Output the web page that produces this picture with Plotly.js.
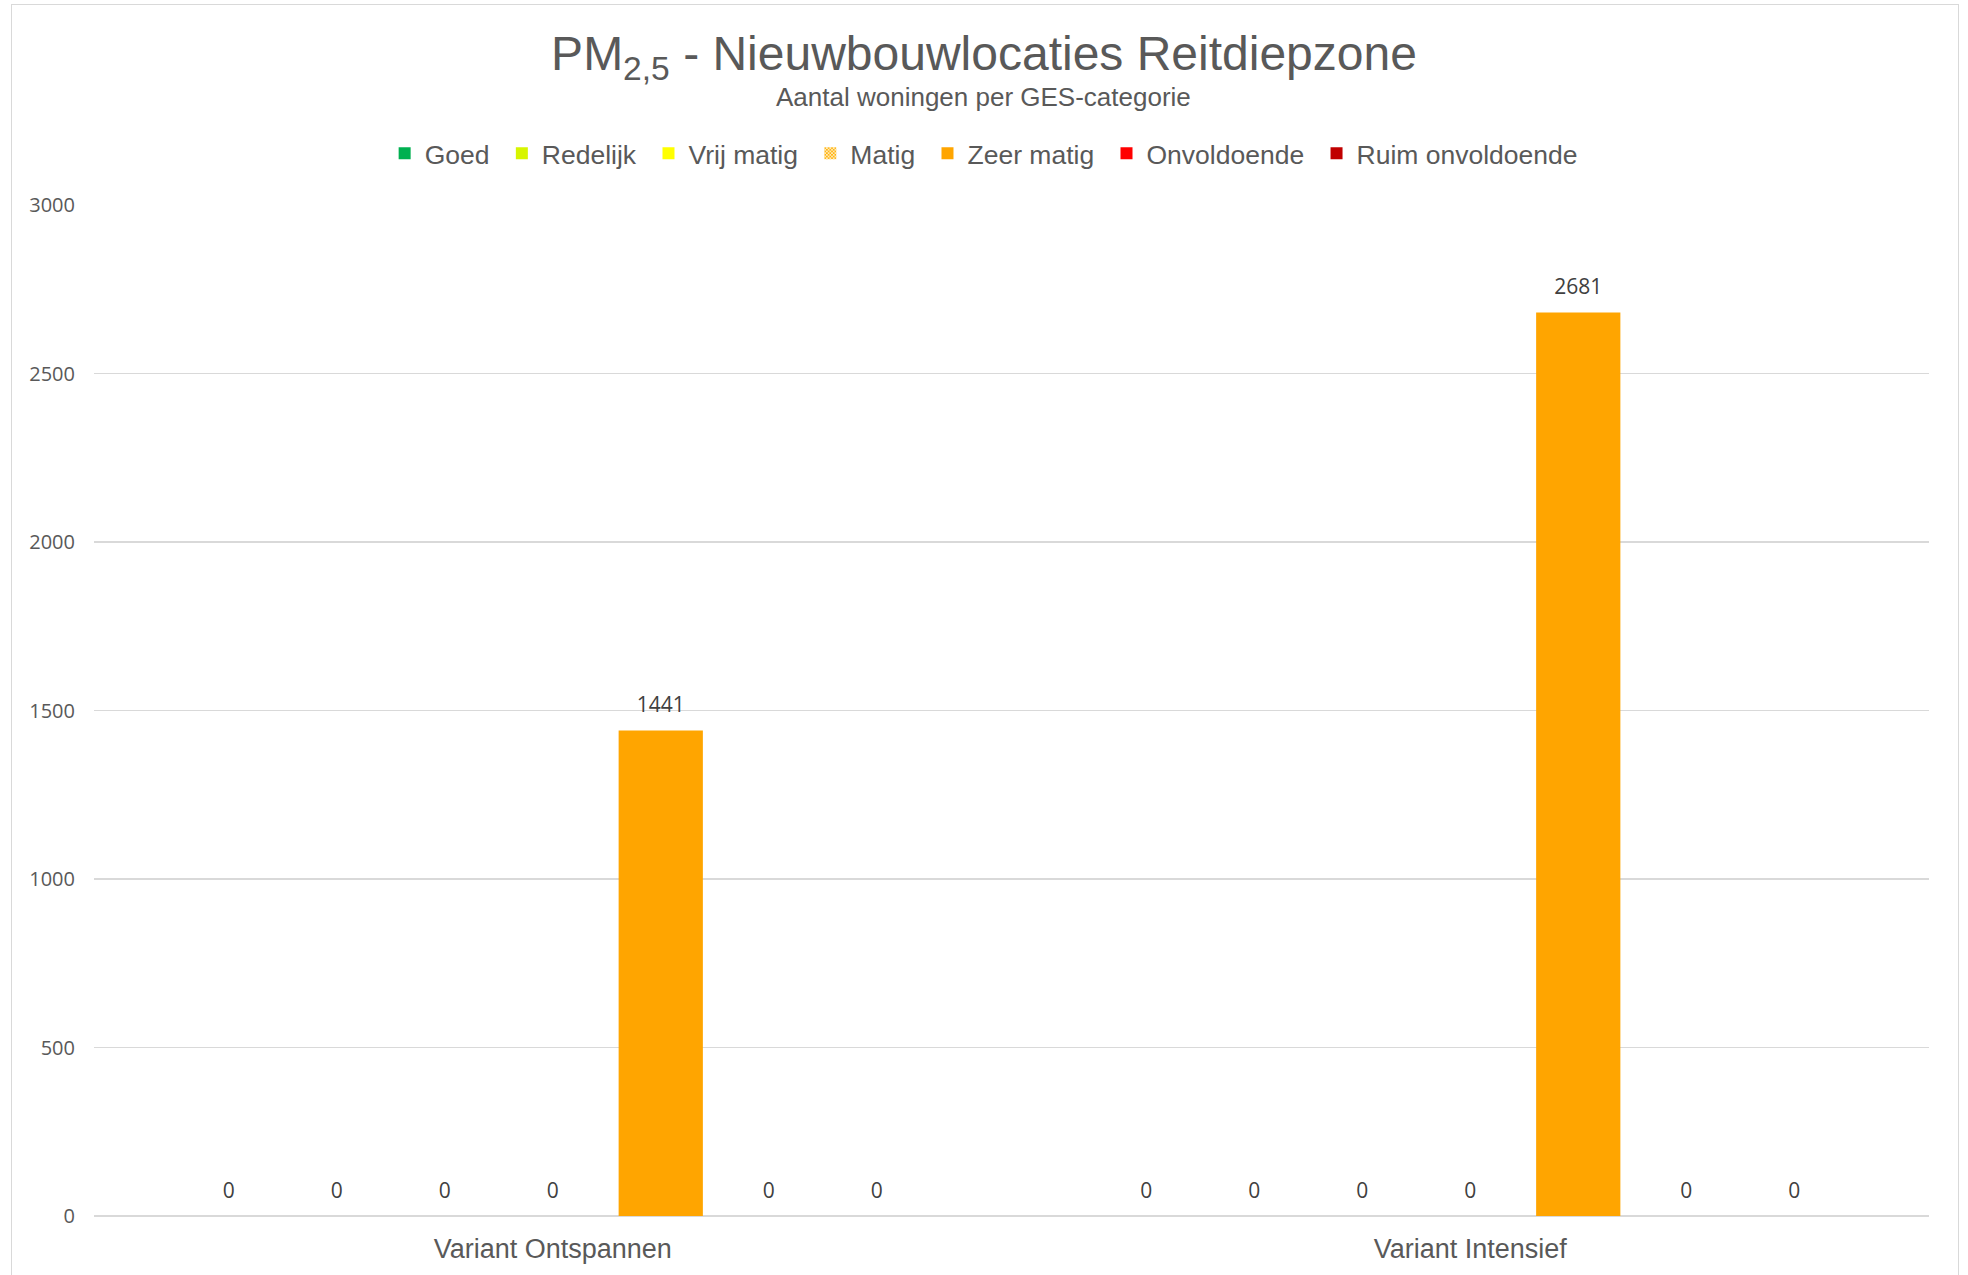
<!DOCTYPE html>
<html>
<head>
<meta charset="utf-8">
<script src="https://cdn.plot.ly/plotly-3.0.1.min.js"></script>
<style>
  body { margin: 0; background: #fff; }
  #chart { width: 1968px; height: 1275px; }
  #frame { position: absolute; left: 11px; top: 4px; width: 1946px; height: 1300px;
           border: 1.5px solid #d9d9d9; pointer-events: none; }
</style>
</head>
<body>
<div id="chart"></div>
<div id="frame"></div>
<script>
// categories and series
var categories = ['Variant Ontspannen', 'Variant Intensief'];
var seriesNames = ['Goed', 'Redelijk', 'Vrij matig', 'Matig', 'Zeer matig', 'Onvoldoende', 'Ruim onvoldoende'];
var goed = [0, 0];
var redelijk = [0, 0];
var vrijMatig = [0, 0];
var matig = [0, 0];
var zeerMatig = [1441, 2681];
var onvoldoende = [0, 0];
var ruimOnvoldoende = [0, 0];
var seriesValues = [goed, redelijk, vrijMatig, matig, zeerMatig, onvoldoende, ruimOnvoldoende];
var seriesColors = ['#00b050', '#d7f500', '#ffff00', '#ffc000', '#ffa500', '#ff0000', '#c00000'];

var GAP = 0.176;

var bars = seriesNames.map(function(name, i) {
  var marker = { color: seriesColors[i] };
  if (name === 'Matig') {
    marker = { color: '#ffffff', pattern: { shape: 'x', fgcolor: '#ffb000', bgcolor: '#ffffff', size: 3, solidity: 0.6 } };
  }
  return {
    type: 'bar',
    name: name + '\u00a0',
    x: categories,
    y: seriesValues[i],
    marker: marker,
    offsetgroup: String(i),
    hoverinfo: 'name+y'
  };
});

// value labels, grouped like the bars (invisible marker keeps them off the bar top)
var labels = seriesNames.map(function(name, i) {
  return {
    type: 'scatter',
    mode: 'markers+text',
    x: categories,
    y: seriesValues[i],
    text: seriesValues[i].map(String),
    textposition: 'top center',
    marker: { size: 19, color: 'rgba(0,0,0,0)' },
    offsetgroup: String(i),
    showlegend: false,
    cliponaxis: false,
    hoverinfo: 'skip',
    textfont: { family: '"Open Sans", "Noto Sans", sans-serif', size: 21, color: '#404040' }
  };
});

var layout = {
  width: 1968,
  height: 1275,
  paper_bgcolor: '#ffffff',
  plot_bgcolor: '#ffffff',
  margin: { l: 94, r: 39, t: 205, b: 59 },
  font: { family: '"Liberation Sans", Arial, sans-serif', color: '#595959' },
  title: {
    text: 'PM<sub>2,5</sub> - Nieuwbouwlocaties Reitdiepzone',
    font: { size: 48, color: '#595959' },
    x: 0.5, xanchor: 'center',
    yref: 'container', y: 0.958, yanchor: 'middle'
  },
  annotations: [{
    text: 'Aantal woningen per GES-categorie',
    xref: 'paper', yref: 'paper', x: 0.485, y: 1.107,
    xanchor: 'center', yanchor: 'middle', showarrow: false,
    font: { size: 26, color: '#595959' }
  }],
  barmode: 'group',
  bargap: GAP,
  bargroupgap: 0.22,
  scattermode: 'group',
  scattergap: GAP,
  showlegend: true,
  legend: {
    orientation: 'h',
    x: 0.487, xanchor: 'center',
    y: 1.051, yanchor: 'middle',
    font: { size: 26.5, color: '#595959' },
    itemwidth: 30,
    traceorder: 'normal'
  },
  xaxis: {
    type: 'category',
    showgrid: false,
    showline: false,
    ticks: '',
    tickfont: { size: 27, color: '#595959' },
    ticklabelstandoff: 14
  },
  yaxis: {
    range: [0, 3000],
    dtick: 500,
    showgrid: true,
    gridcolor: '#d9d9d9',
    gridwidth: 1.5,
    zeroline: true,
    zerolinecolor: '#d9d9d9',
    zerolinewidth: 2.5,
    showline: false,
    ticks: '',
    tickfont: { family: '"Open Sans", "Noto Sans", sans-serif', size: 20, color: '#595959' },
    ticklabelstandoff: 18
  }
};

Plotly.newPlot('chart', bars.concat(labels), layout, { displayModeBar: false, staticPlot: true });
</script>
</body>
</html>
